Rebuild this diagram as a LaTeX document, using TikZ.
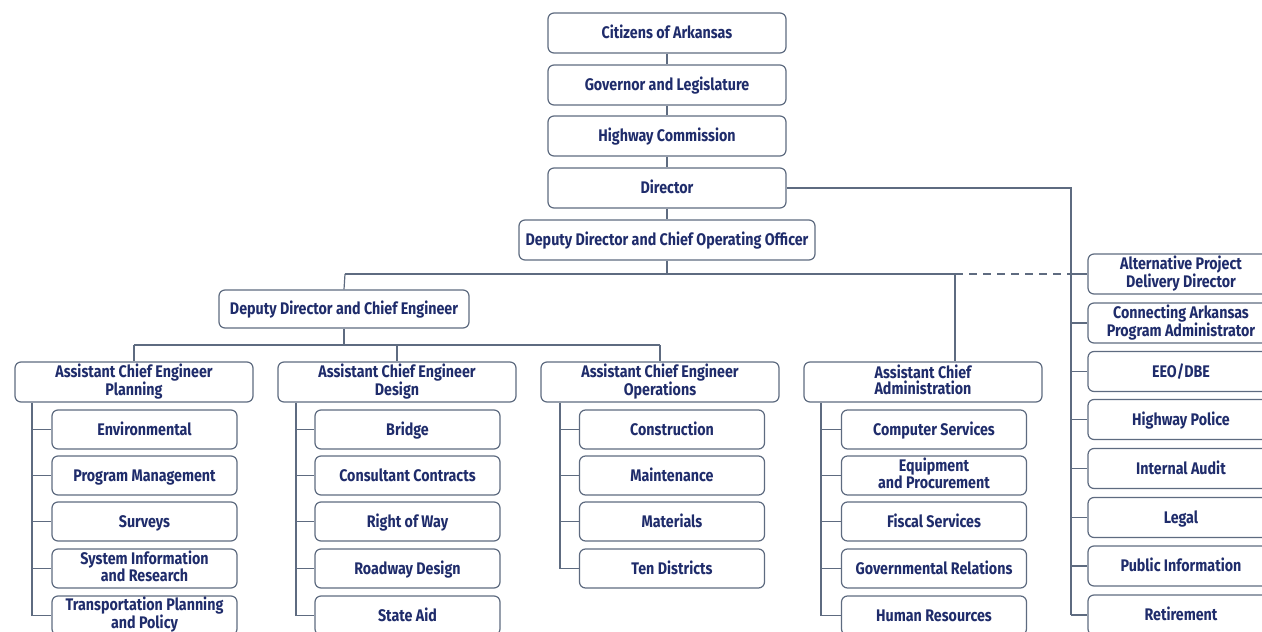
\documentclass[tikz,border=0pt]{standalone}
\usepackage{fontspec}
\setmainfont{Fira Sans}[FakeStretch=0.85]
\definecolor{txt}{HTML}{1F2C6B}
\definecolor{ln}{HTML}{5E6B80}
\begin{document}
\begin{tikzpicture}[x=1pt,y=-1pt,
  box/.style={draw=ln,line width=1.2pt,rounded corners=6pt,fill=white,text=txt,
     font=\fontsize{16.8}{16.5}\selectfont\bfseries,align=center,inner sep=0pt,
     execute at begin node={\rule{0pt}{16pt}},execute at end node={\rule[-5pt]{0pt}{5pt}}},
  top/.style={box,minimum width=238pt,minimum height=40pt},
  ace/.style={box,minimum width=238pt,minimum height=40pt},
  sub/.style={box,minimum width=185pt,minimum height=39pt},
  rgt/.style={box,minimum width=186pt,minimum height=40pt},
  wire/.style={draw=ln,line width=1.2pt}]
\useasboundingbox (0,0) rectangle (1262,632);
\begin{scope}
\clip (0,0) rectangle (1262,632);
\coordinate (j1) at (667,274);
\coordinate (jl) at (345,274);
\coordinate (jr) at (955,274);
\coordinate (jd) at (1071,274);
\coordinate (rtop) at (1071,188);
\coordinate (k1) at (344,345);
\coordinate (kl) at (134,345);
\coordinate (kr) at (660,345);

\node[top] (cit) at (667,33) {Citizens of Arkansas};
\node[top] (gov) at (667,85) {Governor and Legislature};
\node[top] (hc) at (667,136) {Highway Commission};
\node[top] (dir) at (667,188) {Director};
\node[box,minimum width=296pt,minimum height=40pt] (coo) at (667,240) {Deputy Director and Chief Operating Officer};
\node[box,minimum width=250pt,minimum height=38pt] (ddce) at (344,309) {Deputy Director and Chief Engineer};

\node[ace] (a1) at (134,382) {Assistant Chief Engineer\\Planning};
\node[ace] (a2) at (397,382) {Assistant Chief Engineer\\Design};
\node[ace] (a3) at (660,382) {Assistant Chief Engineer\\Operations};
\node[ace] (a4) at (923,382) {Assistant Chief\\Administration};

\node[sub] (p1) at (144.5,429.5) {Environmental};
\node[sub] (p2) at (144.5,475.5) {Program Management};
\node[sub] (p3) at (144.5,521.5) {Surveys};
\node[sub] (p4) at (144.5,568.5) {System Information\\and Research};
\node[sub] (p5) at (144.5,615.5) {Transportation Planning\\and Policy};
\node[sub] (d1) at (407.5,429.5) {Bridge};
\node[sub] (d2) at (407.5,475.5) {Consultant Contracts};
\node[sub] (d3) at (407.5,521.5) {Right of Way};
\node[sub] (d4) at (407.5,568.5) {Roadway Design};
\node[sub] (d5) at (407.5,615.5) {State Aid};
\node[sub] (o1) at (672,429.5) {Construction};
\node[sub] (o2) at (672,475.5) {Maintenance};
\node[sub] (o3) at (672,521.5) {Materials};
\node[sub] (o4) at (672,568.5) {Ten Districts};
\node[sub] (m1) at (934,429.5) {Computer Services};
\node[sub] (m2) at (934,475.5) {Equipment\\and Procurement};
\node[sub] (m3) at (934,521.5) {Fiscal Services};
\node[sub] (m4) at (934,568.5) {Governmental Relations};
\node[sub] (m5) at (934,615.5) {Human Resources};
\node[rgt] (r1) at (1181,274) {Alternative Project\\Delivery Director};
\node[rgt] (r2) at (1181,323) {Connecting Arkansas\\Program Administrator};
\node[rgt] (r3) at (1181,371.5) {EEO/DBE};
\node[rgt] (r4) at (1181,419.5) {Highway Police};
\node[rgt] (r5) at (1181,468.5) {Internal Audit};
\node[rgt] (r6) at (1181,517.5) {Legal};
\node[rgt] (r7) at (1181,566) {Public Information};
\node[rgt] (r8) at (1181,615) {Retirement};

\draw[wire] (cit) -- (gov);
\draw[wire] (gov) -- (hc);
\draw[wire] (hc) -- (dir);
\draw[wire] (dir) -- (coo);
\draw[wire] (coo.south) -- (j1);
\draw[wire] (jl) -- (jr);
\draw[wire,dash pattern=on 8pt off 6pt] (jr) -- (jd);
\draw[wire] (jl) -- (ddce.north);
\draw[wire] (jr) -- (jr |- a4.north);
\draw[wire] (dir.east) -- (rtop) -- (1071,615);
\foreach \r in {r1,r2,r3,r4,r5,r6,r7,r8}
  \draw[wire] (1071,0 |- \r.west) -- (\r.west);
\draw[wire] (ddce.south) -- (k1);
\draw[wire] (kl) -- (kr);
\draw[wire] (kl) -- (a1.north);
\draw[wire] (397,345) -- (a2.north);
\draw[wire] (kr) -- (a3.north);
\draw[wire] (32,0 |- a1.south) -- (32,0 |- p5.west);
\foreach \s in {p1,p2,p3,p4,p5} \draw[wire] (32,0 |- \s.west) -- (\s.west);
\draw[wire] (296,0 |- a2.south) -- (296,0 |- d5.west);
\foreach \s in {d1,d2,d3,d4,d5} \draw[wire] (296,0 |- \s.west) -- (\s.west);
\draw[wire] (560,0 |- a3.south) -- (560,0 |- o4.west);
\foreach \s in {o1,o2,o3,o4} \draw[wire] (560,0 |- \s.west) -- (\s.west);
\draw[wire] (821,0 |- a4.south) -- (821,0 |- m5.west);
\foreach \s in {m1,m2,m3,m4,m5} \draw[wire] (821,0 |- \s.west) -- (\s.west);
\end{scope}
\end{tikzpicture}
\end{document}
